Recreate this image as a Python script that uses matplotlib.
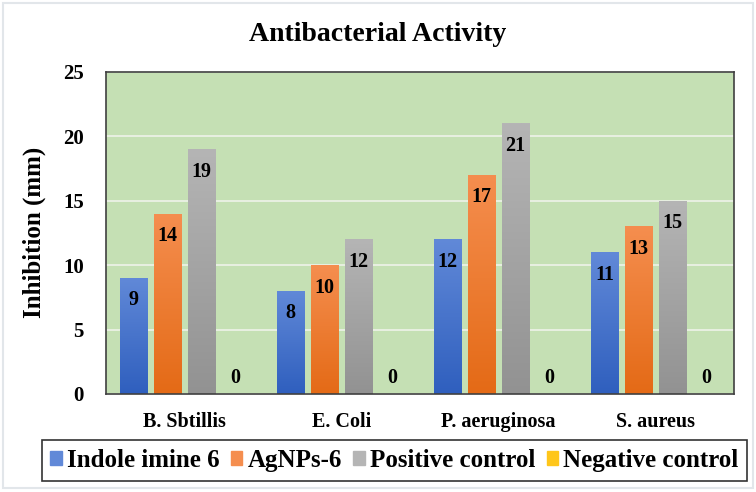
import matplotlib.pyplot as plt
import numpy as np
from matplotlib.colors import LinearSegmentedColormap
from matplotlib.patches import Rectangle

plt.rcParams['font.family'] = ['Liberation Serif', 'DejaVu Serif']
plt.rcParams['font.weight'] = 'bold'

categories = ['B. Sbtillis', 'E. Coli', 'P. aeruginosa', 'S. aureus']
series_names = ['Indole imine 6', 'AgNPs-6', 'Positive control', 'Negative control']
indole = [9, 8, 12, 11]
agnps = [14, 10, 17, 13]
positive = [19, 12, 21, 15]
negative = [0, 0, 0, 0]
series_values = [indole, agnps, positive, negative]

# (top colour, bottom colour) for the Excel-like gradient fill
colors = [('#6189D8', '#2F5FBE'),
          ('#F58E4F', '#E46A16'),
          ('#B5B5B5', '#929292'),
          ('#FFC61A', '#F5B800')]

fig = plt.figure(figsize=(7.56, 4.92), dpi=100)
ax = fig.add_axes([0.1402, 0.1992, 0.8307, 0.6551])
ax.set_facecolor('#C5E0B4')

x = np.arange(len(categories))
step = 0.2166
width = 0.176
offsets = (np.arange(4) - 1.5) * step

grad = np.linspace(0, 1, 256).reshape(-1, 1)
for i, vals in enumerate(series_values):
    top, bottom = colors[i]
    cmap = LinearSegmentedColormap.from_list('g%d' % i, [bottom, top])
    bars = ax.bar(x + offsets[i], vals, width, color=top, label=series_names[i], zorder=2)
    for b, v in zip(bars, vals):
        if v > 0:
            bx, by = b.get_x(), b.get_y()
            im = ax.imshow(grad, cmap=cmap, origin='lower', aspect='auto',
                           extent=[bx, bx + b.get_width(), by, by + b.get_height()], zorder=2.5)
            im.set_clip_path(b)
            ax.annotate(str(v), (b.get_x() + b.get_width() / 2, v), xytext=(0, -9),
                        textcoords='offset points', ha='center', va='top',
                        fontsize=14.5, fontweight='bold', zorder=4)
        else:
            ax.annotate(str(v), (b.get_x() + b.get_width() / 2, v), xytext=(0, 8),
                        textcoords='offset points', ha='center', va='baseline',
                        fontsize=14.5, fontweight='bold', zorder=4)

ax.set_xlim(-0.5, len(categories) - 0.5)
ax.set_ylim(0, 25)
ax.set_yticks([0, 5, 10, 15, 20, 25])
ax.set_xticks(x)
ax.set_xticklabels(categories, fontsize=14.5, fontweight='bold')
ax.tick_params(axis='both', length=0)
ax.tick_params(axis='y', labelsize=15, pad=16)
ax.tick_params(axis='x', pad=13)
ax.yaxis.grid(True, color='#EEF3EA', linewidth=1.2, zorder=1)
ax.set_axisbelow(True)
for s in ax.spines.values():
    s.set_color('#404040')
    s.set_linewidth(1.2)

ax.set_ylabel('Inhibition (mm)', fontsize=18, fontweight='bold', labelpad=12)
fig.text(0.5, 1 - 41 / 492, 'Antibacterial Activity', ha='center', va='baseline',
         fontsize=20, fontweight='bold')

leg = fig.legend(loc='center', bbox_to_anchor=(0.5218, 1 - 460.5 / 492), ncol=4,
                 frameon=True, fancybox=False, handlelength=0.45,
                 handleheight=0.45, handletextpad=0.22, columnspacing=0.45,
                 borderpad=0.35,
                 prop={'family': 'Liberation Serif', 'weight': 'bold', 'size': 18})
leg.get_frame().set_edgecolor('#000000')
leg.get_frame().set_linewidth(1.2)
for h, (top, bottom) in zip(leg.legend_handles, colors):
    h.set_color(top)

fig.patches.append(Rectangle((0.004, 0.008), 0.992, 0.986, transform=fig.transFigure,
                             fill=False, edgecolor='#E2E6EA', linewidth=1.5))

plt.savefig('out.png', dpi=100)
